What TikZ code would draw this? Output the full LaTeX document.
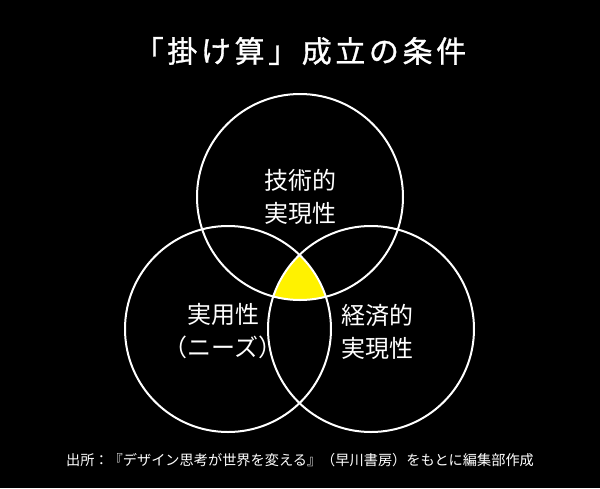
\documentclass[tikz,border=0pt]{standalone}
\usepackage{fontspec}
\setmainfont{Noto Sans CJK JP}
\begin{document}
\begin{tikzpicture}[x = 1pt, y = -1pt, line width = 2pt,
                        ring/.style = {draw = white},
                        venntext/.style = {text = white, align = center, font = \fontsize{24}{33}\selectfont}]
      \fill [black] (0, 0) rectangle (600, 488);
      \useasboundingbox (0, 0) rectangle (600, 488);
      \coordinate (ctop) at (300, 197);
      \coordinate (cleft) at (228, 329);
      \coordinate (cright) at (371, 329);
      \begin{scope}
        \clip (ctop) circle (103);
        \clip (cleft) circle (103);
        \fill [yellow] (cright) circle (103);
      \end{scope}
      \draw [ring] (ctop) circle (103);
      \draw [ring] (cleft) circle (103);
      \draw [ring] (cright) circle (103);
      \node [text = white, font = \fontsize{30}{30}\selectfont\addfontfeature{LetterSpace = 12, FakeBold = 1}] (title) at (300, 51){「掛け算」成立の条件};
      \node [venntext] (tech) at (300, 196.5){技術的\\実現性};
      \node [venntext] (need) at (223, 331.5){実用性\\（ニーズ）};
      \node [venntext] (econ) at (377, 331.5){経済的\\実現性};
      \node [text = white, font = \fontsize{14.2}{14.2}\selectfont] (source) at (300, 460){出所：『デザイン思考が世界を変える』（早川書房）をもとに編集部作成};
    \end{tikzpicture}
\end{document}
